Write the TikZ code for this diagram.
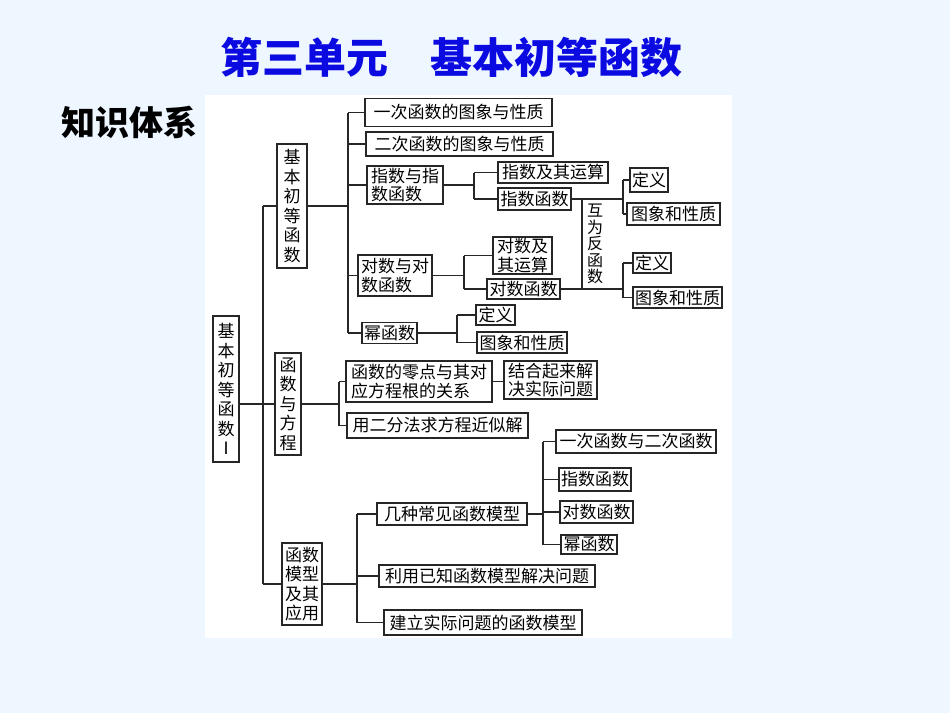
\documentclass[tikz,border=0pt]{standalone}
\usepackage{fontspec}
\newfontfamily\cjk{Noto Sans CJK SC}
\definecolor{bgblue}{RGB}{238,246,255}
\definecolor{titleblue}{RGB}{10,10,225}
\begin{document}
\begin{tikzpicture}[x=1pt,y=-1pt,
  bx/.style={draw=black!85, line width=1.1pt, fill=white, inner sep=0pt, align=center,
    font=\cjk\fontsize{17}{19.5}\selectfont},
  bxl/.style={bx, align=left, font=\cjk\fontsize{17}{18.5}\selectfont},
  ln/.style={draw=black!85, line width=1.1pt},
  plain/.style={inner sep=0pt, align=center, font=\cjk\fontsize{16}{16.5}\selectfont}]
\useasboundingbox (0,0) rectangle (950,713);
\fill[bgblue] (0,0) rectangle (950,713);
\fill[white] (205,95) rectangle (732,638);
% titles
\node[inner sep=0pt, text=titleblue, font=\cjk\bfseries\fontsize{42}{46}\selectfont] (title) at (451,57) {第三单元\hspace{1em}基本初等函数};
\node[inner sep=0pt, font=\cjk\bfseries\fontsize{34}{38}\selectfont] (sys) at (129,122) {知识体系};
% level 0/1
\node[bx, minimum width=26pt, minimum height=146pt] (root) at (226,389) {基\\本\\初\\等\\函\\数\\Ⅰ};
\node[bx, minimum width=30pt, minimum height=124pt] (jb) at (292,206) {基\\本\\初\\等\\函\\数};
\node[bx, minimum width=26pt, minimum height=102pt] (fe) at (288,404) {函\\数\\与\\方\\程};
\node[bx, minimum width=40pt, minimum height=82pt] (fm) at (302,584) {函数\\模型\\及其\\应用};
% basic elementary functions
\node[bx, minimum width=187pt, minimum height=28pt] (a1) at (458.5,112.5) {一次函数的图象与性质};
\node[bx, minimum width=187pt, minimum height=24pt] (a2) at (459.5,144) {二次函数的图象与性质};
\node[bxl, minimum width=76pt, minimum height=38pt] (a3) at (405,185) {指数与指\\数函数};
\node[bxl, minimum width=74pt, minimum height=41pt] (a4) at (395,275.5) {对数与对\\数函数};
\node[bx, minimum width=55pt, minimum height=21pt] (a5) at (389.5,333) {幂函数};
\node[bx, minimum width=110pt, minimum height=21pt] (b1) at (553,172.5) {指数及其运算};
\node[bx, minimum width=73pt, minimum height=22pt] (b2) at (534.5,199) {指数函数};
\node[bxl, minimum width=59pt, minimum height=37pt] (b3) at (522.5,255.5) {对数及\\其运算};
\node[bx, minimum width=73pt, minimum height=20pt] (b4) at (523.5,289) {对数函数};
\node[bx, minimum width=39pt, minimum height=20pt] (b5) at (495.5,315) {定义};
\node[bx, minimum width=90pt, minimum height=21pt] (b6) at (522,342.5) {图象和性质};
\node[bx, minimum width=38pt, minimum height=24pt] (c1) at (649,180) {定义};
\node[bx, minimum width=93pt, minimum height=22pt] (c2) at (673.5,214) {图象和性质};
\node[bx, minimum width=38pt, minimum height=20pt] (c3) at (652,263) {定义};
\node[bx, minimum width=89pt, minimum height=21pt] (c4) at (677.5,297.5) {图象和性质};
\node[plain] (inv) at (595,244) {互\\为\\反\\函\\数};
% functions and equations
\node[bxl, minimum width=146pt, minimum height=41pt] (d1) at (419,381.5) {函数的零点与其对\\应方程根的关系};
\node[bxl, minimum width=93pt, minimum height=38pt] (d2) at (550.5,380) {结合起来解\\决实际问题};
\node[bx, minimum width=181pt, minimum height=25pt] (d3) at (437.5,425.5) {用二分法求方程近似解};
% function models
\node[bx, minimum width=150pt, minimum height=22pt] (e1) at (452,514) {几种常见函数模型};
\node[bx, minimum width=216pt, minimum height=22pt] (e2) at (487,576) {利用已知函数模型解决问题};
\node[bx, minimum width=198pt, minimum height=25pt] (e3) at (483,622.5) {建立实际问题的函数模型};
\node[bx, minimum width=160pt, minimum height=23pt] (f1) at (636,441.5) {一次函数与二次函数};
\node[bx, minimum width=72pt, minimum height=23pt] (f2) at (595,479.5) {指数函数};
\node[bx, minimum width=73pt, minimum height=22pt] (f3) at (596.5,512) {对数函数};
\node[bx, minimum width=56pt, minimum height=19pt] (f4) at (589,544.5) {幂函数};
% vertical line positions
\coordinate (v0) at (263,0);
\coordinate (v1) at (348,0);
\coordinate (v2) at (474,0);
\coordinate (v3) at (464,0);
\coordinate (v4) at (457,0);
\coordinate (v5) at (623,0);
\coordinate (v6) at (582,0);
\coordinate (v7) at (339,0);
\coordinate (v8) at (357,0);
\coordinate (v9) at (543,0);
% connectors: root level
\draw[ln] (root.east |- fe.west) -- (fe.west);
\draw[ln] (jb.west -| v0) -- (fm.west -| v0);
\draw[ln] (jb.west) -- (jb.west -| v0);
\draw[ln] (fm.west) -- (fm.west -| v0);
% basic elementary functions
\draw[ln] (jb.east) -- (jb.east -| v1);
\draw[ln] (a1.west -| v1) -- (a5.west -| v1);
\foreach \n in {a1,a2,a3,a4,a5} \draw[ln] (\n.west) -- (\n.west -| v1);
\draw[ln] (a3.east) -- (a3.east -| v2);
\draw[ln] (b1.west -| v2) -- (b2.west -| v2);
\foreach \n in {b1,b2} \draw[ln] (\n.west) -- (\n.west -| v2);
\draw[ln] (a4.east) -- (a4.east -| v3);
\draw[ln] (b3.west -| v3) -- (b4.west -| v3);
\foreach \n in {b3,b4} \draw[ln] (\n.west) -- (\n.west -| v3);
\draw[ln] (a5.east) -- (a5.east -| v4);
\draw[ln] (b5.west -| v4) -- (b6.west -| v4);
\foreach \n in {b5,b6} \draw[ln] (\n.west) -- (\n.west -| v4);
\draw[ln] (b2.east) -- (b2.east -| v5);
\draw[ln] (b4.east) -- (b4.east -| v5);
\draw[ln] (b2.east -| v6) -- (b4.east -| v6);
\draw[ln] (c1.west -| v5) -- (c2.west -| v5);
\draw[ln] (c3.west -| v5) -- (c4.west -| v5);
\foreach \n in {c1,c2,c3,c4} \draw[ln] (\n.west) -- (\n.west -| v5);
% functions and equations
\draw[ln] (fe.east) -- (fe.east -| v7);
\draw[ln] (d1.west -| v7) -- (d3.west -| v7);
\foreach \n in {d1,d3} \draw[ln] (\n.west) -- (\n.west -| v7);
\draw[ln] (d1.east) -- (d1.east -| d2.west);
% function models
\draw[ln] (fm.east) -- (fm.east -| v8);
\draw[ln] (e1.west -| v8) -- (e3.west -| v8);
\foreach \n in {e1,e2,e3} \draw[ln] (\n.west) -- (\n.west -| v8);
\draw[ln] (e1.east) -- (e1.east -| v9);
\draw[ln] (f1.west -| v9) -- (f4.west -| v9);
\foreach \n in {f1,f2,f3,f4} \draw[ln] (\n.west) -- (\n.west -| v9);
\end{tikzpicture}
\end{document}
